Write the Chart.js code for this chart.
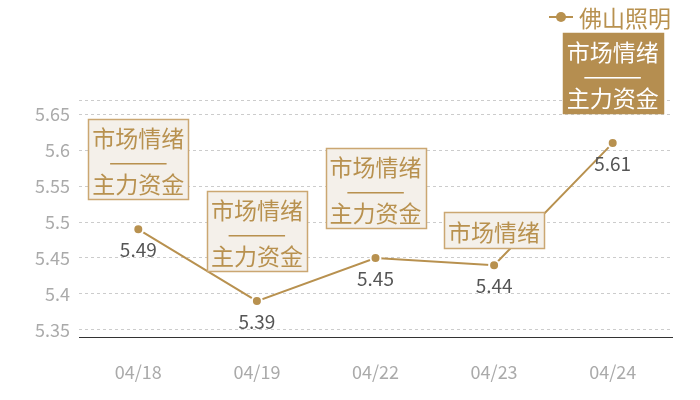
<!DOCTYPE html>
<html>
<head>
<meta charset="utf-8">
<script src="https://cdn.jsdelivr.net/npm/chart.js@4.4.0/dist/chart.umd.min.js"></script>
<style>
  html, body { margin: 0; padding: 0; background: #fff; }
  #wrap { width: 700px; height: 400px; }
</style>
</head>
<body>
<div id="wrap"><canvas id="chart"></canvas></div>
<script>
// 数据
const categories = ['04/18', '04/19', '04/22', '04/23', '04/24'];
const seriesName = '佛山照明';
const values = [5.49, 5.39, 5.45, 5.44, 5.61];
const yTicks = [5.34, 5.35, 5.4, 5.45, 5.5, 5.55, 5.6, 5.65, 5.67];
const noteLines = [
    ['市场情绪', '——', '主力资金'],
    ['市场情绪', '——', '主力资金'],
    ['市场情绪', '——', '主力资金'],
    ['市场情绪'],
    ['市场情绪', '——', '主力资金']
];
const noteFilled = [false, false, false, false, true];

const GOLD = '#b8914f';
const FONT = '"Noto Sans CJK SC", "Noto Sans", sans-serif';

// 标注框、数值标签与图例
const notePlugin = {
    id: 'notes',
    afterDatasetsDraw(chart) {
        const ctx = chart.ctx;
        const meta = chart.getDatasetMeta(0);
        ctx.save();
        meta.data.forEach((pt, i) => {
            const lines = noteLines[i];
            const n = lines.length;
            const w = 100;
            const h = n > 1 ? 80 : 36;
            const gap = n > 1 ? 30 : 17;
            const x0 = Math.round(pt.x - w / 2) + 0.5;
            const y0 = Math.round(pt.y - gap - h) + 0.5;
            ctx.fillStyle = noteFilled[i] ? '#b58e50' : '#f4f0ea';
            ctx.fillRect(x0, y0, w, h);
            ctx.strokeStyle = noteFilled[i] ? '#b58e50' : '#cba772';
            ctx.lineWidth = 1.5;
            ctx.strokeRect(x0, y0, w, h);
            ctx.fillStyle = noteFilled[i] ? '#ffffff' : GOLD;
            ctx.font = '23px ' + FONT;
            ctx.textAlign = 'center';
            ctx.textBaseline = 'middle';
            const top = y0 + (h - 23 * (n - 1)) / 2 + 1.5;
            lines.forEach((t, k) => {
                const ty = top + k * 23;
                if (t === '——') {
                    // 破折号在 Noto 里偏窄，横向拉宽
                    ctx.save();
                    ctx.translate(pt.x, ty);
                    ctx.scale(1.55, 1);
                    ctx.fillText(t, 0, 0);
                    ctx.restore();
                } else {
                    ctx.fillText(t, pt.x, ty);
                }
            });

            ctx.fillStyle = '#555555';
            ctx.font = '19px ' + FONT;
            ctx.fillText(String(values[i]), pt.x, pt.y + 21);
        });

        // 图例
        const ly = 17;
        ctx.strokeStyle = GOLD;
        ctx.lineWidth = 2;
        ctx.beginPath();
        ctx.moveTo(549, ly);
        ctx.lineTo(573, ly);
        ctx.stroke();
        ctx.fillStyle = GOLD;
        ctx.beginPath();
        ctx.arc(561, ly, 5, 0, Math.PI * 2);
        ctx.fill();
        ctx.font = '23px ' + FONT;
        ctx.textAlign = 'left';
        ctx.textBaseline = 'middle';
        ctx.fillText(seriesName, 579, ly + 1);
        ctx.restore();
    }
};

new Chart(document.getElementById('chart'), {
    type: 'line',
    data: {
        labels: categories,
        datasets: [{
            label: seriesName,
            data: values,
            borderColor: GOLD,
            borderWidth: 2,
            backgroundColor: GOLD,
            pointBackgroundColor: GOLD,
            pointBorderColor: '#ffffff',
            pointBorderWidth: 2,
            pointRadius: 5,
            pointHoverRadius: 5,
            tension: 0
        }]
    },
    options: {
        responsive: true,
        maintainAspectRatio: false,
        animation: false,
        layout: { padding: { top: 100, right: 28, left: 0, bottom: 0 } },
        plugins: { legend: { display: false }, tooltip: { enabled: false } },
        scales: {
            x: {
                offset: true,
                grid: { display: false, drawTicks: false },
                border: { display: true, color: '#333333', width: 1 },
                ticks: { color: '#aaaaaa', font: { size: 18, family: FONT }, padding: 24 },
                afterFit(scale) { scale.height = 63; }
            },
            y: {
                min: 5.34,
                max: 5.67,
                afterBuildTicks(scale) {
                    scale.ticks = yTicks.map(v => ({ value: v }));
                },
                afterFit(scale) { scale.width = 79; },
                grid: {
                    drawTicks: false,
                    color: c => (c.index === 0 ? 'rgba(0,0,0,0)' : '#cccccc'),
                    lineWidth: 1
                },
                border: { display: false, dash: [3, 3] },
                ticks: {
                    color: '#aaaaaa',
                    font: { size: 18, family: FONT },
                    padding: 9,
                    callback: (v, i, arr) => (i === 0 || i === arr.length - 1 ? '' : String(+Number(v).toFixed(2)))
                }
            }
        }
    },
    plugins: [notePlugin]
});
</script>
</body>
</html>
